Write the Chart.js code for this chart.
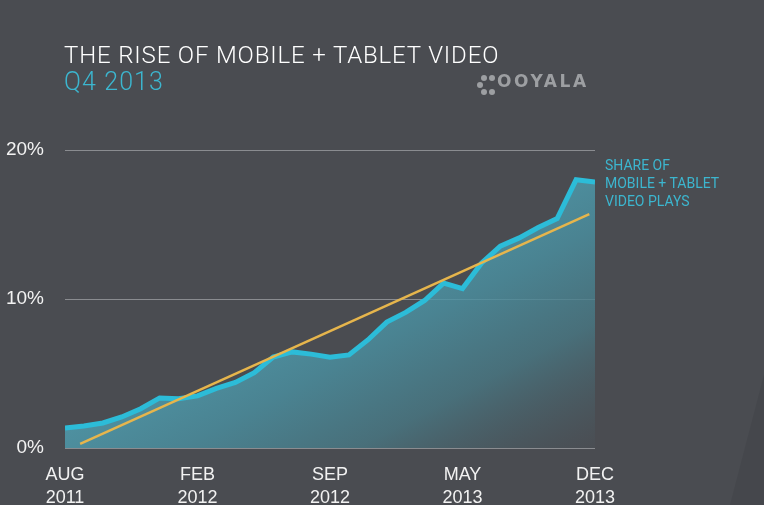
<!DOCTYPE html>
<html><head><meta charset="utf-8">
<script src="https://cdn.jsdelivr.net/npm/chart.js@4.4.1/dist/chart.umd.min.js"></script>
<style>
html,body{margin:0;padding:0;background:#4a4c51;width:764px;height:505px;overflow:hidden;}
#wrap{position:relative;width:764px;height:505px;}
#c{position:absolute;left:0;top:0;}
.t{position:absolute;white-space:nowrap;font-family:"Roboto",sans-serif;}
#title{left:64px;top:41px;font-size:24px;font-weight:300;letter-spacing:0.85px;color:#ffffff;}
#sub{left:64px;top:67px;font-size:25px;font-weight:300;letter-spacing:1.1px;color:#3cb6cf;}
#logo{left:497px;top:71px;font-size:17px;font-weight:bold;letter-spacing:2.6px;color:#9d9fa2;font-family:"DejaVu Sans",sans-serif;}
#note{left:605px;top:156px;font-size:14px;line-height:18px;color:#3cb6cf;font-family:"Roboto",sans-serif;}
.dot{position:absolute;width:6px;height:6px;border-radius:50%;background:#9d9fa2;}
</style></head>
<body>
<div id="wrap">
<canvas id="c" width="764" height="505"></canvas>
<div class="t" id="title">THE RISE OF MOBILE + TABLET VIDEO</div>
<div class="t" id="sub">Q4 2013</div>
<div class="dot" style="left:481px;top:75px"></div>
<div class="dot" style="left:489px;top:75px"></div>
<div class="dot" style="left:477px;top:82px"></div>
<div class="dot" style="left:481px;top:89px"></div>
<div class="dot" style="left:489px;top:89px"></div>
<div class="t" id="logo">OOYALA</div>
<div class="t" id="note">SHARE OF<br>MOBILE + TABLET<br>VIDEO PLAYS</div>
</div>
<script>
// Monthly categories, Aug 2011 – Dec 2013
const months = ["Aug 2011","Sep 2011","Oct 2011","Nov 2011","Dec 2011","Jan 2012","Feb 2012","Mar 2012","Apr 2012","May 2012","Jun 2012","Jul 2012","Aug 2012","Sep 2012","Oct 2012","Nov 2012","Dec 2012","Jan 2013","Feb 2013","Mar 2013","Apr 2013","May 2013","Jun 2013","Jul 2013","Aug 2013","Sep 2013","Oct 2013","Nov 2013","Dec 2013"];
// Share of mobile + tablet video plays (%)
const shareValues = [1.34,1.48,1.68,2.08,2.64,3.36,3.3,3.5,4.0,4.4,5.05,6.1,6.45,6.3,6.1,6.25,7.25,8.45,9.1,9.9,11.07,10.7,12.4,13.55,14.1,14.8,15.4,18.0,17.85];
// Trend line endpoints (month index, %)
const trendX = [0.8, 27.7];
const trendY = [0.27, 15.7];
// Axis tick labels
const tickIndices = [0,7,14,21,28];
const tickLabels = [["AUG","2011"],["FEB","2012"],["SEP","2012"],["MAY","2013"],["DEC","2013"]];
const yTickValues = [0,10,20];

const bgPlugin = {
  id:'bg',
  beforeDraw(chart){
    const ctx = chart.ctx;
    ctx.save();
    ctx.fillStyle = '#4a4c51';
    ctx.fillRect(0,0,chart.width,chart.height);
    ctx.beginPath();
    ctx.moveTo(730,505); ctx.lineTo(764,375); ctx.lineTo(764,505); ctx.closePath();
    ctx.fillStyle = '#45474c';
    ctx.fill();
    ctx.restore();
  }
};

new Chart(document.getElementById('c'), {
  type:'line',
  data:{
    datasets:[
      {
        label:'Share of mobile + tablet video plays',
        data: shareValues.map((v,i)=>({x:i,y:v})),
        borderColor:'#2cbcd8',
        borderWidth:5,
        pointRadius:0,
        tension:0,
        fill:'origin',
        backgroundColor:(ctx)=>{
          const ca = ctx.chart.chartArea;
          if(!ca) return 'rgba(70,140,155,0.6)';
          const g = ctx.chart.ctx.createLinearGradient(0, ca.bottom-1, 130, ca.bottom+246);
          g.addColorStop(0,'rgba(80,165,184,0.8)');
          g.addColorStop(0.3,'rgba(74,145,162,0.8)');
          g.addColorStop(0.6,'rgba(72,120,132,0.8)');
          g.addColorStop(1,'rgba(75,80,86,0.4)');
          return g;
        },
        order:2
      },
      {
        label:'Trend',
        data: trendX.map((x,i)=>({x:x,y:trendY[i]})),
        borderColor:'#e6b54c',
        borderWidth:2.5,
        pointRadius:0,
        fill:false,
        order:1
      }
    ]
  },
  options:{
    responsive:false,
    animation:false,
    layout:{padding:{top:150,right:169,left:0,bottom:0}},
    plugins:{legend:{display:false},tooltip:{enabled:false}},
    scales:{
      x:{
        type:'linear',
        min:0,max:months.length-1,
        afterBuildTicks:(s)=>{ s.ticks = tickIndices.map(v=>({value:v})); },
        afterFit:(s)=>{ s.height = 57; },
        grid:{display:false},
        border:{display:false},
        ticks:{
          color:'#f2f2f2',
          font:{family:'"Liberation Sans", Arial, sans-serif',size:18,lineHeight:1.25},
          padding:8,
          maxRotation:0,
          autoSkip:false,
          callback:(v)=>{ const k = tickIndices.indexOf(v); return k>=0 ? tickLabels[k] : ''; }
        }
      },
      y:{
        min:0,max:20,
        afterBuildTicks:(s)=>{ s.ticks = yTickValues.map(v=>({value:v})); },
        afterFit:(s)=>{ s.width = 65; },
        grid:{color:'#8a8c90',lineWidth:1,drawTicks:false},
        border:{display:false},
        ticks:{
          color:'#f2f2f2',
          font:{family:'"Liberation Sans", Arial, sans-serif',size:19},
          padding:21,
          callback:(v)=>v+'%'
        }
      }
    }
  },
  plugins:[bgPlugin]
});
</script>
</body></html>
